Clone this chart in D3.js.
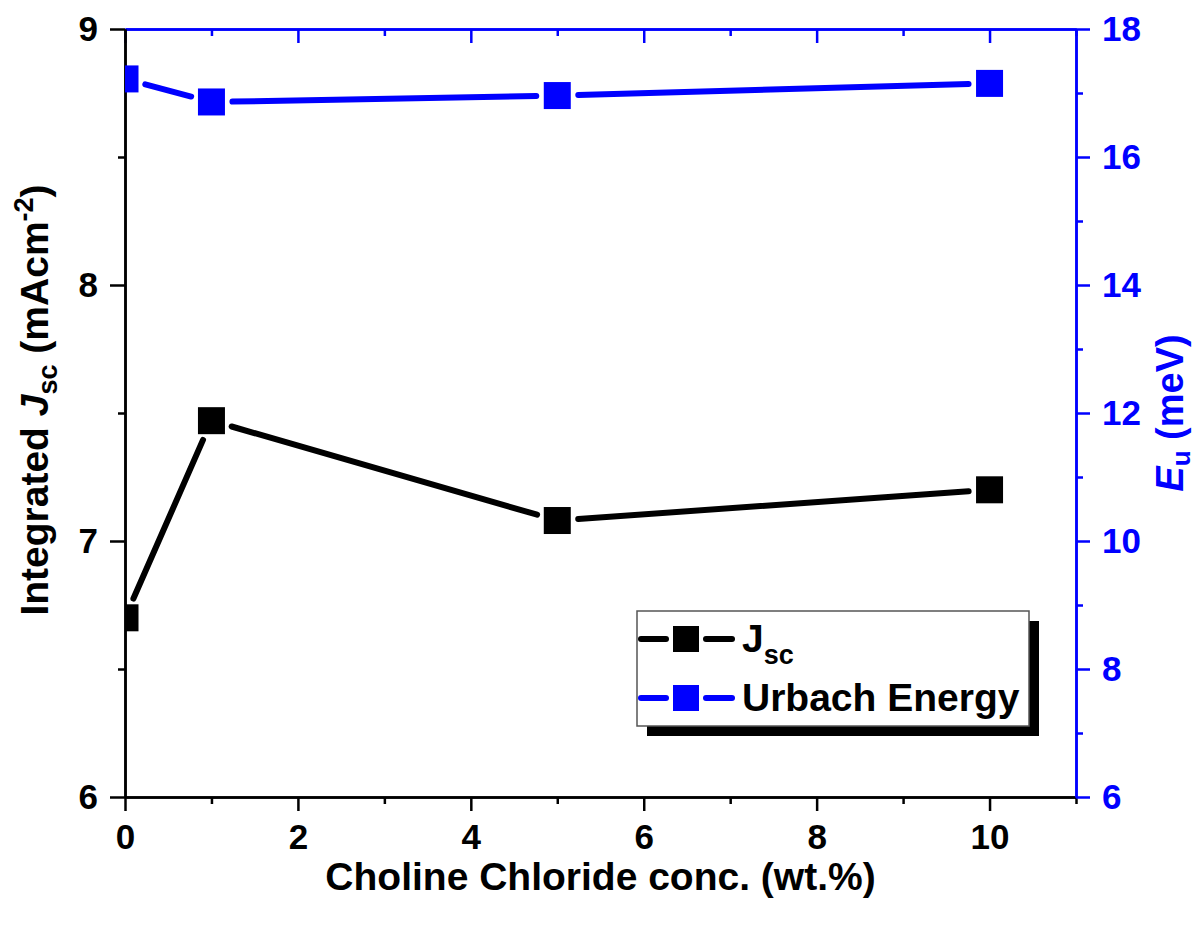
<!DOCTYPE html>
<html>
<head>
<meta charset="utf-8">
<script src="https://cdn.jsdelivr.net/npm/d3@7"></script>
<style>
  body { margin: 0; background: #fff; }
  text { font-family: "Liberation Sans", Arial, sans-serif; font-weight: bold; }
</style>
</head>
<body>
<div id="chart"></div>
<script>
// data
const conc = [0, 1, 5, 10];
const jsc = [6.7, 7.47, 7.08, 7.2];
const urbach = [17.22, 16.86, 16.96, 17.15];

const xMajor = [0, 2, 4, 6, 8, 10];
const xMinor = [1, 3, 5, 7, 9, 11];
const leftMajor = [6, 7, 8, 9];
const leftMinor = [6.5, 7.5, 8.5];
const rightMajor = [6, 8, 10, 12, 14, 16, 18];
const rightMinor = [7, 9, 11, 13, 15, 17];

const legendLabels = ["J", "Urbach Energy"];

const W = 1198, H = 926;
const margin = {top: 29, right: 122, bottom: 129, left: 125};
const width = W - margin.left - margin.right;
const height = H - margin.top - margin.bottom;
const BLUE = "#0000ff";

const svg = d3.select("#chart").append("svg")
    .attr("width", W)
    .attr("height", H);

const g = svg.append("g")
    .attr("transform", "translate(" + margin.left + "," + margin.top + ")");

const x = d3.scaleLinear().domain([0, 11]).range([0, width]);
const yL = d3.scaleLinear().domain([6, 9]).range([height, 0]);
const yR = d3.scaleLinear().domain([6, 18]).range([height, 0]);

svg.append("defs").append("clipPath").attr("id", "plotClip")
    .append("rect").attr("width", width).attr("height", height);

// ---- axes ----
function styleAxis(sel, color, fontSize) {
    sel.select(".domain").attr("stroke", color).attr("stroke-width", 2.5);
    sel.selectAll(".tick line").attr("stroke", color).attr("stroke-width", 2.5);
    sel.selectAll(".tick text")
        .attr("fill", color)
        .style("font-size", fontSize + "px");
}

// bottom
g.append("g").attr("transform", "translate(0," + height + ")")
    .call(d3.axisBottom(x).tickValues(xMinor).tickSize(7).tickSizeOuter(0).tickFormat(""))
    .call(s => styleAxis(s, "#000", 35));
g.append("g").attr("transform", "translate(0," + height + ")")
    .call(d3.axisBottom(x).tickValues(xMajor).tickSize(14).tickSizeOuter(0).tickPadding(13).tickFormat(d3.format("d")))
    .call(s => styleAxis(s, "#000", 35));

// top (blue, inward ticks)
g.append("g")
    .call(d3.axisTop(x).tickValues(xMinor).tickSize(-7).tickSizeOuter(0).tickFormat(""))
    .call(s => styleAxis(s, BLUE, 35));
g.append("g")
    .call(d3.axisTop(x).tickValues(xMajor).tickSize(-14).tickSizeOuter(0).tickFormat(""))
    .call(s => styleAxis(s, BLUE, 35));

// left
g.append("g")
    .call(d3.axisLeft(yL).tickValues(leftMinor).tickSize(7).tickSizeOuter(0).tickFormat(""))
    .call(s => styleAxis(s, "#000", 35));
g.append("g")
    .call(d3.axisLeft(yL).tickValues(leftMajor).tickSize(15).tickSizeOuter(0).tickPadding(12).tickFormat(d3.format("d")))
    .call(s => styleAxis(s, "#000", 35));

// right
g.append("g").attr("transform", "translate(" + width + ",0)")
    .call(d3.axisRight(yR).tickValues(rightMinor).tickSize(7).tickSizeOuter(0).tickFormat(""))
    .call(s => styleAxis(s, BLUE, 35));
g.append("g").attr("transform", "translate(" + width + ",0)")
    .call(d3.axisRight(yR).tickValues(rightMajor).tickSize(14).tickSizeOuter(0).tickPadding(12).tickFormat(d3.format("d")))
    .call(s => styleAxis(s, BLUE, 35));

// ---- series ----
const markerSize = 27;
const gap = 21;

function drawSeries(values, yScale, color) {
    const layer = g.append("g").attr("clip-path", "url(#plotClip)");
    const pts = conc.map((c, i) => [x(c), yScale(values[i])]);
    const segs = d3.pairs(pts).map(([a, b]) => {
        const dx = b[0] - a[0], dy = b[1] - a[1];
        const len = Math.hypot(dx, dy);
        const ux = dx / len, uy = dy / len;
        return [[a[0] + ux * gap, a[1] + uy * gap], [b[0] - ux * gap, b[1] - uy * gap]];
    });
    layer.selectAll("line.seg").data(segs).enter().append("line")
        .attr("class", "seg")
        .attr("x1", d => d[0][0]).attr("y1", d => d[0][1])
        .attr("x2", d => d[1][0]).attr("y2", d => d[1][1])
        .attr("stroke", color).attr("stroke-width", 6)
        .attr("stroke-linecap", "round");
    layer.selectAll("rect.pt").data(pts).enter().append("rect")
        .attr("class", "pt")
        .attr("x", d => d[0] - markerSize / 2)
        .attr("y", d => d[1] - markerSize / 2)
        .attr("width", markerSize).attr("height", markerSize)
        .attr("fill", color);
}

drawSeries(jsc, yL, "#000");
drawSeries(urbach, yR, BLUE);

// ---- axis titles ----
svg.append("text")
    .attr("x", margin.left + width / 2)
    .attr("y", 890)
    .attr("text-anchor", "middle")
    .style("font-size", "39px")
    .text("Choline Chloride conc. (wt.%)");

const lt = svg.append("text")
    .attr("transform", "translate(48,400) rotate(-90)")
    .attr("text-anchor", "middle")
    .style("font-size", "39px");
lt.append("tspan").text("Integrated ");
lt.append("tspan").style("font-style", "italic").text("J");
lt.append("tspan").attr("dy", 9).style("font-size", "27px").text("sc");
lt.append("tspan").attr("dy", -9).text(" (mAcm");
lt.append("tspan").attr("dy", -15).style("font-size", "27px").text("-2");
lt.append("tspan").attr("dy", 15).text(")");

const rt = svg.append("text")
    .attr("transform", "translate(1183,413) rotate(-90)")
    .attr("text-anchor", "middle")
    .attr("fill", BLUE)
    .style("font-size", "38px");
rt.append("tspan").style("font-style", "italic").text("E");
rt.append("tspan").attr("dy", 7).style("font-size", "26px").text("u");
rt.append("tspan").attr("dy", -7).text(" (meV)");

// ---- legend ----
const lg = svg.append("g").attr("transform", "translate(637,611)");
const lgW = 392, lgH = 115;
lg.append("rect").attr("x", 10).attr("y", 10).attr("width", lgW).attr("height", lgH).attr("fill", "#000");
lg.append("rect").attr("width", lgW).attr("height", lgH)
    .attr("fill", "#fff").attr("stroke", "#555").attr("stroke-width", 1.5);

const rows = [{color: "#000", y: 28}, {color: BLUE, y: 87}];
rows.forEach((r, i) => {
    const row = lg.append("g").attr("transform", "translate(0," + r.y + ")");
    row.append("line").attr("x1", 4).attr("x2", 29).attr("stroke", r.color)
        .attr("stroke-width", 6).attr("stroke-linecap", "round");
    row.append("line").attr("x1", 69).attr("x2", 95).attr("stroke", r.color)
        .attr("stroke-width", 6).attr("stroke-linecap", "round");
    row.append("rect").attr("x", 36).attr("y", -13).attr("width", 26).attr("height", 26).attr("fill", r.color);
    const t = row.append("text").attr("x", 105).attr("y", 13).style("font-size", "39px");
    t.append("tspan").text(legendLabels[i]);
    if (i === 0) t.append("tspan").attr("dy", 12).style("font-size", "27px").text("sc");
});
</script>
</body>
</html>
